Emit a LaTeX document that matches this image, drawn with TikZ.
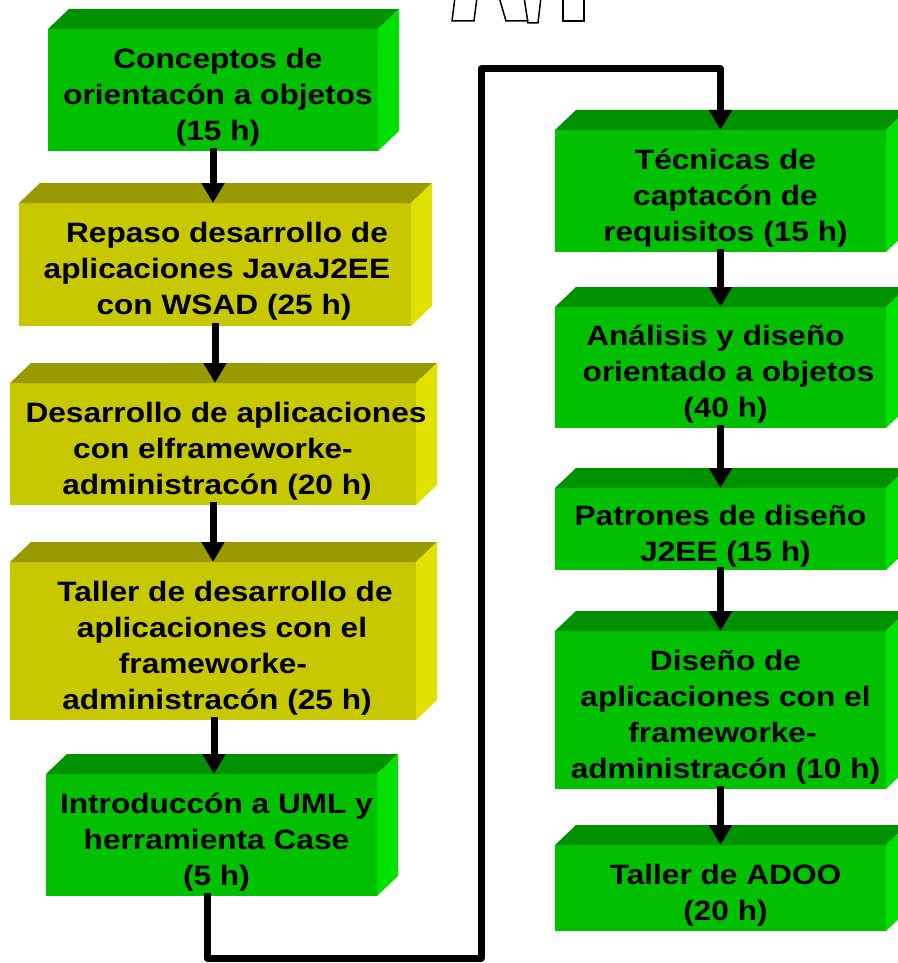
\documentclass[tikz,border=0pt]{standalone}
\usepackage{fontspec}
\setmainfont{Liberation Sans}[FakeStretch=1.13]
\usetikzlibrary{arrows.meta}
\definecolor{gfront}{RGB}{0,192,0}
\definecolor{gtop}{RGB}{0,145,0}
\definecolor{gside}{RGB}{0,225,0}
\definecolor{ofront}{RGB}{200,200,0}
\definecolor{otop}{RGB}{153,153,0}
\definecolor{oside}{RGB}{225,225,0}
\newcommand\boxfaces[3]{%
  \fill[#2] (#1.north west) -- ([shift={(21,-20)}]#1.north west) -- ([shift={(21,-20)}]#1.north east) -- (#1.north east) -- cycle;
  \fill[#3] (#1.north east) -- ([shift={(21,-20)}]#1.north east) -- ([shift={(21,-20)}]#1.south east) -- (#1.south east) -- cycle;}
\newcommand\lsh[1]{\hspace*{#1pt}}
\begin{document}
\begin{tikzpicture}[x=1pt,y=-1pt,
  face/.style={rectangle, inner sep=0pt, outer sep=0pt},
  gface/.style={face, fill=gfront},
  oface/.style={face, fill=ofront},
  lbl/.style={align=center, font=\fontsize{28}{36}\selectfont\bfseries, inner sep=0pt},
  conn/.style={line width=7pt, line join=round, -{Triangle[width=22pt,length=20pt]}},
  logo/.style={line width=1.5pt, line join=miter}]
\useasboundingbox[fill=white] (0,0) rectangle (897,963);
% logo fragment
\draw[logo] (455,-3) -- (452,21) -- (474,21) -- (477,-3);
\draw[logo] (499,-3) -- (506,21) -- (528,21);
\draw[logo] (524,-3) -- (528,23) -- (538,23) -- (541,-3);
\draw[logo] (563,-3) -- (563,21) -- (584,21) -- (584,-3);
% front faces
\node[gface, minimum width=330pt, minimum height=122pt] (b1) at (213,90) {};
\node[oface, minimum width=392pt, minimum height=123pt] (b2) at (215,264.5) {};
\node[oface, minimum width=406pt, minimum height=122pt] (b3) at (213,444) {};
\node[oface, minimum width=406pt, minimum height=158pt] (b4) at (213,641) {};
\node[gface, minimum width=331pt, minimum height=122pt] (b5) at (211.5,835) {};
\node[gface, minimum width=331pt, minimum height=122pt] (b6) at (720.5,191) {};
\node[gface, minimum width=331pt, minimum height=121pt] (b7) at (720.5,367.5) {};
\node[gface, minimum width=331pt, minimum height=82pt] (b8) at (720.5,529) {};
\node[gface, minimum width=331pt, minimum height=158pt] (b9) at (720.5,710) {};
\node[gface, minimum width=331pt, minimum height=86pt] (b10) at (720.5,888) {};
% 3D faces
\boxfaces{b1}{gtop}{gside}
\boxfaces{b2}{otop}{oside}
\boxfaces{b3}{otop}{oside}
\boxfaces{b4}{otop}{oside}
\boxfaces{b5}{gtop}{gside}
\boxfaces{b6}{gtop}{gside}
\boxfaces{b7}{gtop}{gside}
\boxfaces{b8}{gtop}{gside}
\boxfaces{b9}{gtop}{gside}
\boxfaces{b10}{gtop}{gside}
% labels
\node[lbl] (t1) at ([xshift=5pt,yshift=-7pt]b1.center) {Conceptos de\\orientacón a objetos\\(15 h)};
\node[lbl] (t2) at ([xshift=6pt,yshift=-7pt]b2.center) {\lsh{12}Repaso desarrollo de\\\lsh{-8}aplicaciones JavaJ2EE\\\lsh{6}con WSAD (25 h)};
\node[lbl] (t3) at ([xshift=6pt,yshift=-7pt]b3.center) {\lsh{14}Desarrollo de aplicaciones\\\lsh{-12}con elframeworke-\\\lsh{-4}administracón (20 h)};
\node[lbl] (t4) at ([xshift=6pt,yshift=-7pt]b4.center) {\lsh{12}Taller de desarrollo de\\\lsh{6}aplicaciones con el\\\lsh{-12}frameworke-\\\lsh{-4}administracón (25 h)};
\node[lbl] (t5) at ([xshift=5pt,yshift=-7pt]b5.center) {Introduccón a UML y\\herramienta Case\\(5 h)};
\node[lbl] (t6) at ([xshift=5pt,yshift=-7pt]b6.center) {Técnicas de\\captacón de\\requisitos (15 h)};
\node[lbl] (t7) at ([xshift=5pt,yshift=-7pt]b7.center) {\lsh{-20}Análisis y diseño\\\lsh{6}orientado a objetos\\(40 h)};
\node[lbl] (t8) at ([xshift=5pt,yshift=-7pt]b8.center) {\lsh{-10}Patrones de diseño\\J2EE (15 h)};
\node[lbl] (t9) at ([xshift=5pt,yshift=-7pt]b9.center) {Diseño de\\aplicaciones con el\\\lsh{-6}frameworke-\\administracón (10 h)};
\node[lbl] (t10) at ([xshift=5pt,yshift=-7pt]b10.center) {Taller de ADOO\\(20 h)};
% connectors
\draw[conn] ([yshift=3pt]b1.south) -- (b1.south |- b2.north);
\draw[conn] ([yshift=3pt]b2.south) -- (b2.south |- b3.north);
\draw[conn] ([yshift=3pt]b3.south) -- (b3.south |- b4.north);
\draw[conn] ([xshift=1pt,yshift=3pt]b4.south) -- ([xshift=1pt]b4.south |- b5.north);
\coordinate (c1) at (481,958);
\coordinate (c2) at (481,69);
\draw[conn] ([xshift=-4.5pt,yshift=3pt]b5.south) |- (c1) -- (c2) -| (b6.north);
\draw[conn] ([yshift=3pt]b6.south) -- (b6.south |- b7.north);
\draw[conn] ([yshift=3pt]b7.south) -- (b7.south |- b8.north);
\draw[conn] ([yshift=3pt]b8.south) -- (b8.south |- b9.north);
\draw[conn] ([yshift=3pt]b9.south) -- (b9.south |- b10.north);
\end{tikzpicture}
\end{document}
